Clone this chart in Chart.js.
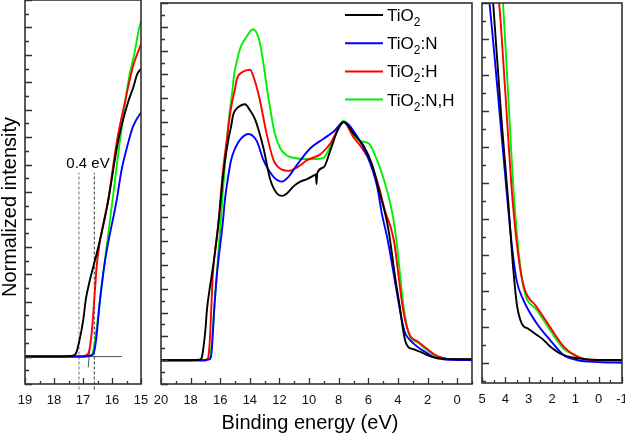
<!DOCTYPE html>
<html>
<head>
<meta charset="utf-8">
<script src="https://cdn.jsdelivr.net/npm/chart.js@4.4.1/dist/chart.umd.min.js"></script>
<style>
  body { margin: 0; background: #fff; overflow: hidden; }
  canvas { position: absolute; left: 0; top: 0; }
</style>
</head>
<body>
<canvas id="leftPanel" width="625" height="434"></canvas>
<canvas id="midPanel" width="625" height="434"></canvas>
<canvas id="rightPanel" width="625" height="434"></canvas>
<script>
// values (binding energy in eV, normalized intensity)
const seriesNames = ["TiO2", "TiO2:N", "TiO2:H", "TiO2:N,H"];

const energyTiO2 = [20, 18, 17.4, 17.25, 17.12, 16.99, 16.9, 16.76, 16.59, 16.36, 16.13, 15.78, 15.44, 15.27, 15.13, 14.99, 14.6, 14.32, 14.0, 13.64, 13.08, 12.63, 12.17, 11.83, 11.5, 11.05, 10.6, 10.14, 9.7, 9.55, 9.5, 9.45, 9.02, 8.57, 8.11, 7.66, 6.99, 6.31, 5.74, 5.18, 4.84, 4.62, 4.5, 4.17, 3.88, 3.67, 3.5, 3.3, 3.0, 2.66, 2.4, 2.09, 1.66, 0.94, 0, -1];
const intTiO2 = [0, 0, 0.002, 0.01, 0.06, 0.135, 0.21, 0.28, 0.35, 0.45, 0.57, 0.79, 0.93, 0.98, 1.03, 1.05, 1.07, 1.075, 1.05, 1.01, 0.89, 0.76, 0.70, 0.69, 0.70, 0.73, 0.75, 0.76, 0.775, 0.78, 0.74, 0.785, 0.81, 0.88, 0.96, 1.0, 0.95, 0.90, 0.82, 0.69, 0.61, 0.54, 0.49, 0.34, 0.226, 0.134, 0.08, 0.055, 0.047, 0.039, 0.033, 0.023, 0.013, 0.0065, 0.004, 0.004];

const energyN = [20, 17, 16.75, 16.64, 16.55, 16.41, 16.24, 15.84, 15.67, 15.44, 15.27, 15.0, 14.6, 14.09, 13.53, 13.08, 12.4, 11.83, 11.39, 10.82, 9.92, 9.02, 8.34, 7.66, 6.76, 6.08, 5.41, 5.07, 4.71, 4.17, 3.91, 3.71, 3.52, 3.23, 2.66, 2.09, 1.51, 0.94, 0, -1];
const intN = [0, 0, 0.003, 0.01, 0.06, 0.21, 0.35, 0.57, 0.68, 0.78, 0.84, 0.89, 0.93, 0.95, 0.92, 0.84, 0.77, 0.75, 0.77, 0.82, 0.89, 0.93, 0.96, 1.0, 0.94, 0.86, 0.73, 0.61, 0.51, 0.32, 0.226, 0.16, 0.115, 0.0875, 0.055, 0.032, 0.011, 0.004, 0.001, 0];

const energyH = [20, 17, 16.9, 16.82, 16.7, 16.61, 16.51, 16.13, 15.84, 15.55, 15.27, 15.0, 14.88, 14.5, 13.98, 13.7, 13.35, 12.9, 12.4, 11.83, 11.39, 10.8, 10.14, 9.24, 8.57, 7.66, 6.99, 6.42, 5.86, 5.3, 4.84, 4.5, 4.24, 4.05, 3.69, 3.38, 3.16, 2.66, 2.09, 1.51, 0.94, 0.3, -1];
const intH = [0, 0, 0.005, 0.01, 0.087, 0.21, 0.35, 0.57, 0.78, 0.93, 1.06, 1.14, 1.18, 1.21, 1.22, 1.18, 1.10, 0.96, 0.84, 0.80, 0.795, 0.81, 0.84, 0.865, 0.91, 1.0, 0.935, 0.89, 0.83, 0.73, 0.62, 0.56, 0.49, 0.40, 0.226, 0.134, 0.101, 0.078, 0.050, 0.023, 0.009, 0.004, 0.003];

const energyNH = [20, 17, 16.75, 16.68, 16.57, 16.41, 15.9, 15.76, 15.44, 15.2, 15.06, 14.9, 14.65, 14.2, 13.8, 13.35, 12.74, 12.35, 11.95, 11.5, 11.05, 10.4, 9.7, 9.02, 8.45, 7.66, 7.1, 6.54, 5.97, 5.41, 4.96, 4.39, 4.1, 3.9, 3.62, 3.23, 2.66, 2.09, 1.51, 0.94, 0.51, -1];
const intNH = [0, 0, 0.005, 0.01, 0.07, 0.21, 0.64, 0.76, 1.0, 1.12, 1.2, 1.25, 1.31, 1.36, 1.39, 1.34, 1.10, 0.96, 0.89, 0.86, 0.85, 0.845, 0.845, 0.85, 0.915, 1.005, 0.95, 0.92, 0.91, 0.84, 0.76, 0.62, 0.5, 0.385, 0.226, 0.106, 0.074, 0.046, 0.020, 0.0097, 0.004, 0.003];

// onset construction in the left panel
const onsetTiO2 = 17.14;
const onsetOthers = 16.61;
const onsetSpan = [-0.12, 0.67];
const fitBaseE = [19, 15.66];
const tangentE = [16.76, 16.82];
const tangentI = [0.036, -0.04];
const gapLabel = "0.4 eV";

const colors = ["#000000", "#0000ff", "#ff0000", "#00ee00"];
const FONT = '"Liberation Sans", Arial, sans-serif';

function pts(xs, ys) {
    return xs.map((x, i) => ({ x, y: ys[i] }));
}

const spectra = [
    pts(energyTiO2, intTiO2),
    pts(energyN, intN),
    pts(energyH, intH),
    pts(energyNH, intNH)
];

function spectrumSets() {
    return spectra.map((data, i) => ({
        label: seriesNames[i],
        data,
        borderColor: colors[i],
        borderWidth: 1.9,
        pointRadius: 0,
        cubicInterpolationMode: "monotone",
        fill: false
    }));
}

// frame + inward tick marks
const frameTicks = {
    id: "frameTicks",
    afterDraw(chart, args, o) {
        const { ctx, chartArea: a, scales: { x, y } } = chart;
        ctx.save();
        ctx.strokeStyle = "#333";
        ctx.lineWidth = 1.6;
        ctx.strokeRect(a.left, a.top, a.right - a.left, a.bottom - a.top);
        ctx.lineWidth = 1.3;
        ctx.beginPath();
        const isMajor = (v, step) => Math.abs(v / step - Math.round(v / step)) < 1e-6;
        let start = Math.ceil(x.min / o.xMinor - 1e-9);
        for (let k = start; k * o.xMinor <= x.max + 1e-9; k++) {
            const v = k * o.xMinor;
            const px = Math.round(x.getPixelForValue(v)) + 0.5;
            const len = isMajor(v, o.xMajor) ? 6 : 3;
            ctx.moveTo(px, a.bottom);
            ctx.lineTo(px, a.bottom - len);
        }
        start = Math.ceil(y.min / o.yMinor - 1e-9);
        for (let k = start; k * o.yMinor <= y.max + 1e-9; k++) {
            const v = k * o.yMinor;
            const py = Math.round(y.getPixelForValue(v)) + 0.5;
            const len = isMajor(v, o.yMajor) ? 7 : 4;
            ctx.moveTo(a.left, py);
            ctx.lineTo(a.left + len, py);
        }
        ctx.stroke();
        ctx.restore();
    }
};

function drawSubLabel(ctx, x, base, text) {
    // "TiO2..." with subscript 2
    const head = "TiO", tail = text.slice(4);
    ctx.font = "17px " + FONT;
    ctx.fillText(head, x, base);
    let w = ctx.measureText(head).width;
    ctx.font = "12px " + FONT;
    ctx.fillText("2", x + w, base + 5);
    w += ctx.measureText("2").width;
    ctx.font = "17px " + FONT;
    ctx.fillText(tail, x + w, base);
}

const legendBox = {
    id: "legendBox",
    afterDraw(chart) {
        const ctx = chart.ctx;
        ctx.save();
        seriesNames.forEach((name, i) => {
            const y = 15 + i * 28.2;
            ctx.strokeStyle = colors[i];
            ctx.lineWidth = 2;
            ctx.beginPath();
            ctx.moveTo(345, y);
            ctx.lineTo(383, y);
            ctx.stroke();
            ctx.fillStyle = "#000";
            ctx.textBaseline = "alphabetic";
            drawSubLabel(ctx, 387, y + 6, name);
        });
        // x axis title
        ctx.font = "20px " + FONT;
        ctx.textAlign = "center";
        ctx.fillText("Binding energy (eV)", 310, 429);
        ctx.restore();
    }
};

const leftText = {
    id: "leftText",
    afterDraw(chart) {
        const ctx = chart.ctx;
        ctx.save();
        ctx.fillStyle = "#000";
        ctx.font = "15px " + FONT;
        ctx.textAlign = "center";
        ctx.fillText(gapLabel, 88, 168);
        ctx.translate(16, 207);
        ctx.rotate(-Math.PI / 2);
        ctx.font = "20px " + FONT;
        ctx.fillText("Normalized intensity", 0, 0);
        ctx.restore();
    }
};

function panel(id, area, xr, yr, ticks, datasets, plugins) {
    return new Chart(document.getElementById(id), {
        type: "line",
        data: { datasets },
        options: {
            responsive: false,
            animation: false,
            devicePixelRatio: 1,
            layout: { padding: { left: area.l, right: 625 - area.r, top: area.t, bottom: 0 } },
            scales: {
                x: {
                    type: "linear",
                    reverse: true,
                    min: xr[0],
                    max: xr[1],
                    grid: { display: false },
                    border: { display: false },
                    ticks: {
                        stepSize: ticks.xMajor,
                        includeBounds: false,
                        autoSkip: false,
                        maxRotation: 0,
                        padding: 1,
                        color: "#111",
                        font: { family: FONT, size: 13 }
                    },
                    afterFit(s) {
                        s.height = 434 - area.b;
                        s.paddingLeft = 0;
                        s.paddingRight = 0;
                    }
                },
                y: {
                    type: "linear",
                    min: yr[0],
                    max: yr[1],
                    grid: { display: false },
                    border: { display: false },
                    ticks: { display: false },
                    afterFit(s) { s.width = 0; }
                }
            },
            plugins: {
                legend: { display: false },
                tooltip: { enabled: false },
                frameTicks: ticks
            }
        },
        plugins: [frameTicks].concat(plugins)
    });
}

const leftExtras = [
    {
        data: [{ x: onsetTiO2, y: onsetSpan[0] }, { x: onsetTiO2, y: onsetSpan[1] }],
        borderColor: "#888", borderWidth: 1.2, borderDash: [3, 2], pointRadius: 0, clip: false
    },
    {
        data: [{ x: onsetOthers, y: onsetSpan[0] }, { x: onsetOthers, y: onsetSpan[1] }],
        borderColor: "#333", borderWidth: 1, borderDash: [3, 2], pointRadius: 0, clip: false
    },
    {
        data: [{ x: fitBaseE[0], y: 0 }, { x: fitBaseE[1], y: 0 }],
        borderColor: "#555", borderWidth: 1, pointRadius: 0
    },
    {
        data: pts(tangentE, tangentI),
        borderColor: "#555", borderWidth: 1, pointRadius: 0
    }
];

panel("leftPanel", { l: 25, r: 141, t: 0, b: 384 }, [15, 19], [-0.1, 1.3],
    { xMajor: 1, xMinor: 0.5, yMajor: 0.1, yMinor: 0.05 },
    spectrumSets().concat(leftExtras), [leftText]);

panel("midPanel", { l: 161, r: 472, t: 3, b: 384 }, [-1, 20], [-0.1, 1.5],
    { xMajor: 2, xMinor: 1, yMajor: 0.1, yMinor: 0.05 },
    spectrumSets(), [legendBox]);

panel("rightPanel", { l: 482, r: 622, t: 3, b: 383 }, [-1, 5], [-0.028, 0.5],
    { xMajor: 1, xMinor: 0.5, yMajor: 0.05, yMinor: 0.025 },
    spectrumSets(), []);
</script>
</body>
</html>
